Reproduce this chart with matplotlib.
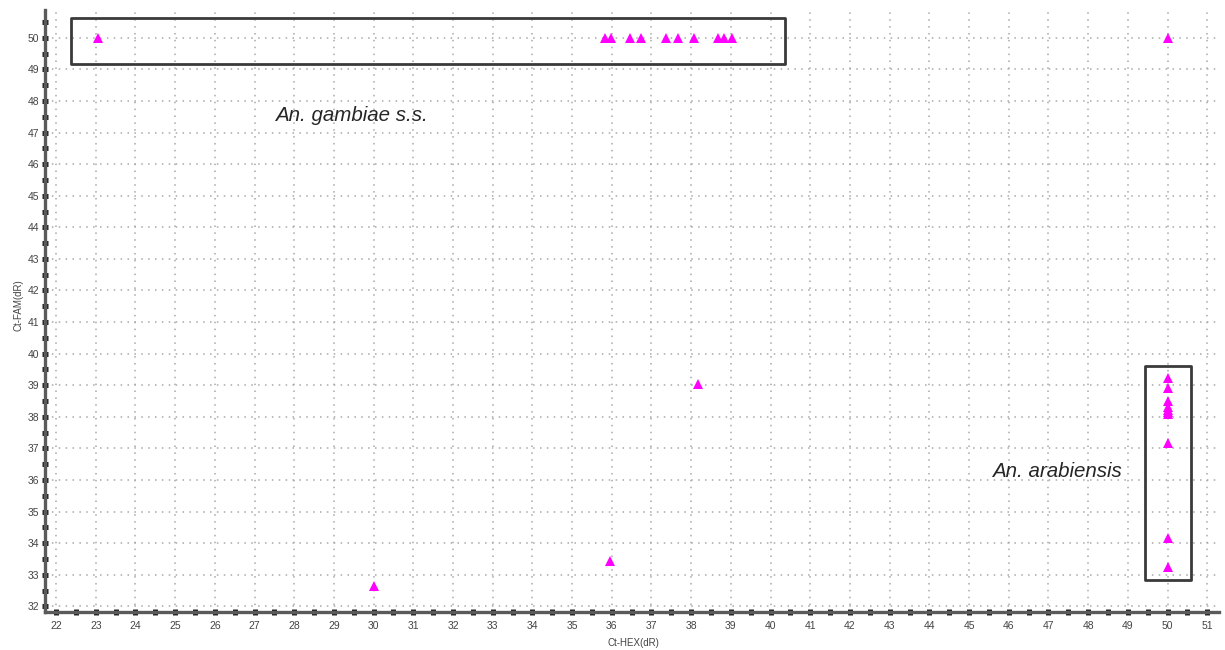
import numpy as np
import matplotlib
matplotlib.use('Agg')
import matplotlib.pyplot as plt
from matplotlib.patches import Rectangle
from matplotlib.ticker import MultipleLocator

# Ct values per sample (HEX on x, FAM on y); 50 = no amplification
ct_hex = [23.05, 35.83, 35.98, 36.46, 36.73, 37.36, 37.66, 38.06, 38.68, 38.83, 39.03,
          50.0, 30.0, 35.96, 38.18,
          50.0, 50.0, 50.0, 50.0, 50.0, 50.0, 50.0, 50.0, 50.0, 50.0]
ct_fam = [50.0, 50.0, 50.0, 50.0, 50.0, 50.0, 50.0, 50.0, 50.0, 50.0, 50.0,
          50.0, 32.65, 33.45, 39.04,
          39.24, 38.9, 38.51, 38.22, 38.15, 38.08, 37.18, 34.15, 33.23, 38.3]

x_ticks = list(range(22, 52))
y_ticks = list(range(32, 51))

# cluster boxes: (x0, y0, x1, y1) and their labels
gambiae_box = (22.38, 49.17, 40.36, 50.62)
arabiensis_box = (49.43, 32.84, 50.59, 39.61)
gambiae_label = 'An. gambiae s.s.'
arabiensis_label = 'An. arabiensis'

plt.rcParams['font.family'] = ['Liberation Sans', 'DejaVu Sans']

fig = plt.figure(figsize=(12.25, 6.5), dpi=100)
ax = fig.add_axes([0.0367, 0.0585, 0.9585, 0.926])

ax.set_xlim(21.72, 51.3)
ax.set_ylim(31.82, 50.88)

ax.xaxis.set_major_locator(MultipleLocator(1))
ax.xaxis.set_minor_locator(MultipleLocator(0.5))
ax.yaxis.set_major_locator(MultipleLocator(1))
ax.yaxis.set_minor_locator(MultipleLocator(0.5))
ax.set_xticks(x_ticks)
ax.set_yticks(y_ticks)

ax.grid(True, which='major', color='#a8a8a8', linestyle=(0, (1, 3.5)), linewidth=1.1)
ax.set_axisbelow(True)

for side in ['top', 'right']:
    ax.spines[side].set_visible(False)
for side in ['left', 'bottom']:
    ax.spines[side].set_linewidth(2.4)
    ax.spines[side].set_color('#5a5a5a')

ax.tick_params(which='both', direction='inout', length=4.5, width=3.6, color='#222222')
ax.tick_params(axis='x', which='major', pad=4, labelsize=7.5, labelcolor='#444444')
ax.tick_params(axis='y', which='major', pad=2, labelsize=7.5, labelcolor='#444444')

ax.plot(ct_hex, ct_fam, linestyle='none', marker='^', markersize=6.5,
        color='#ff00ff', markeredgewidth=0, zorder=4)

for x0, y0, x1, y1 in [gambiae_box, arabiensis_box]:
    ax.add_patch(Rectangle((x0, y0), x1 - x0, y1 - y0, fill=False,
                           edgecolor='#3a3a3a', linewidth=2, joinstyle='round', zorder=3))

ax.text(27.51, 47.53, gambiae_label, style='italic', fontsize=14.8,
        color='#262626', ha='left', va='center')
ax.text(45.59, 36.27, arabiensis_label, style='italic', fontsize=14.8,
        color='#262626', ha='left', va='center')

fig.text(633 / 1225, 1 - 643 / 650, 'Ct-HEX(dR)', fontsize=7, color='#444444',
         ha='center', va='center')
fig.text(18 / 1225, 1 - 305 / 650, 'Ct-FAM(dR)', fontsize=7, color='#444444',
         ha='center', va='center', rotation=90)

fig.savefig('out.png', dpi=100, facecolor='white')
